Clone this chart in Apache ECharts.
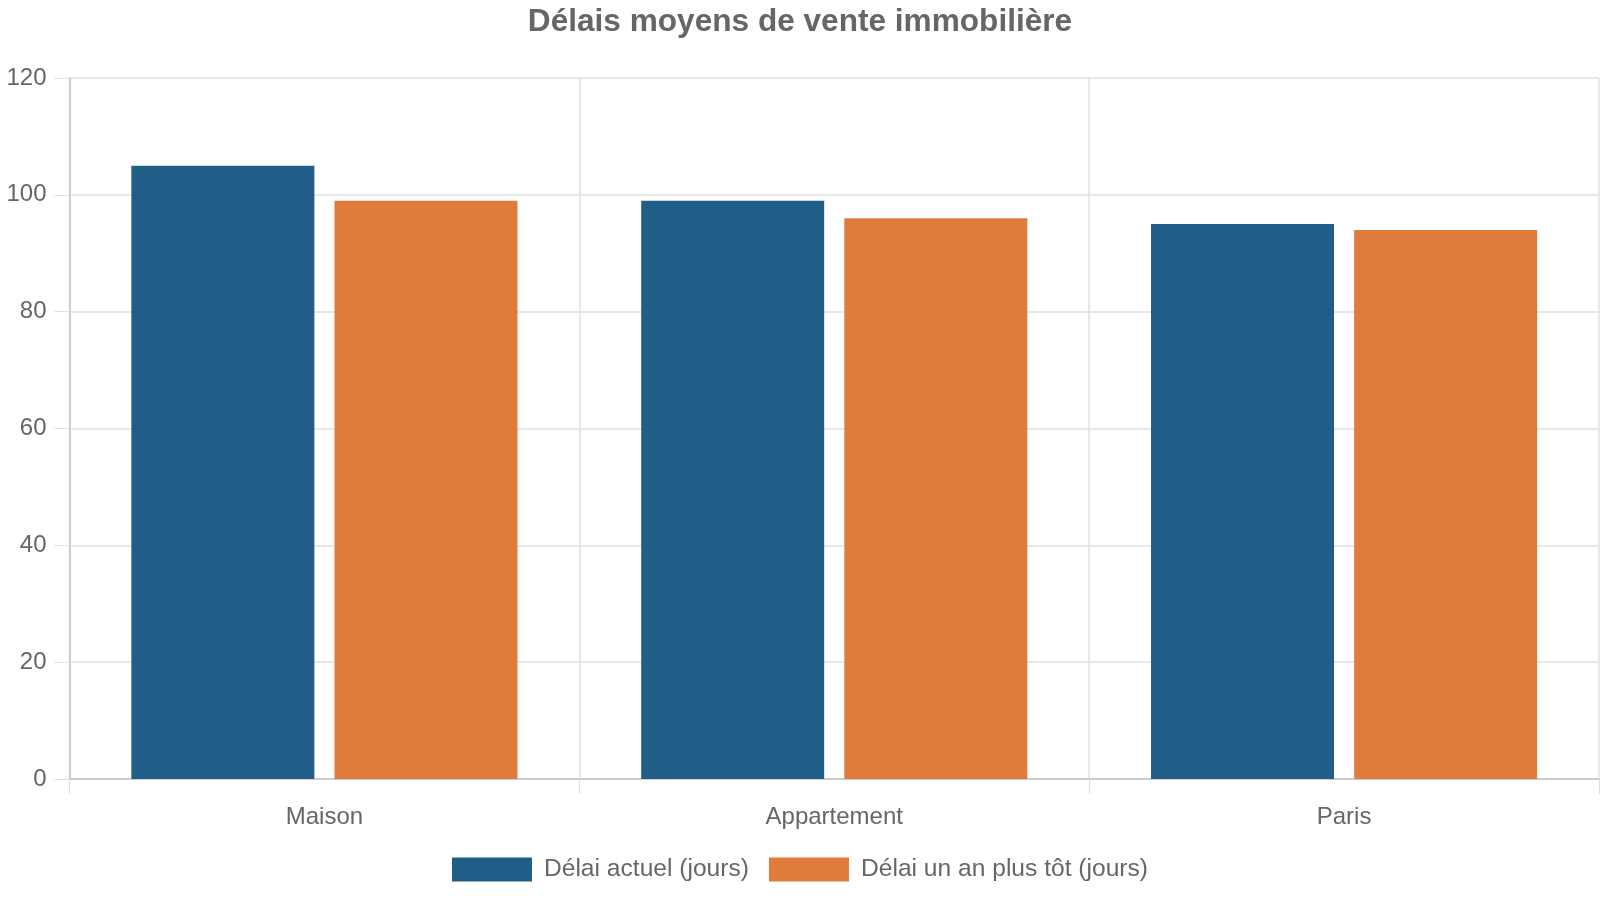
<!DOCTYPE html>
<html lang="fr">
<head>
    <meta charset="UTF-8">
    <title>Délais moyens de vente immobilière</title>
    <script src="https://cdn.jsdelivr.net/npm/echarts@6/dist/echarts.min.js"></script>
    <style>
        html, body { margin: 0; padding: 0; background: #fff; }
        #viz { width: 1600px; height: 900px; }
    </style>
</head>
<body>
    <div id="viz"></div>
    <script>
        const title = 'Délais moyens de vente immobilière';
        const categories = ['Maison', 'Appartement', 'Paris'];
        const seriesNames = ['Délai actuel (jours)', 'Délai un an plus tôt (jours)'];
        const currentDelay = [105, 99, 95];
        const delayYearBefore = [99, 96, 94];
        const colors = ['#205e87', '#e07b3c'];

        const font = '"Liberation Sans", Arial, sans-serif';
        const textColor = '#666';

        const option = {
            animation: false,
            color: colors,
            title: {
                text: title,
                left: 'center',
                top: 1,
                textStyle: { fontFamily: font, fontSize: 31.6, fontWeight: 'bold', color: textColor }
            },
            legend: {
                top: 852,
                left: 'center',
                itemWidth: 80,
                itemHeight: 24,
                itemGap: 20,
                icon: 'rect',
                textStyle: { fontFamily: font, fontSize: 24.6, color: textColor, padding: [0, 0, 0, 7] },
                data: seriesNames
            },
            grid: { left: 69.5, right: 1, top: 78, bottom: 121, containLabel: false },
            xAxis: {
                type: 'category',
                data: categories,
                axisLine: { lineStyle: { color: '#ccc', width: 2 } },
                axisTick: { show: true, length: 15, lineStyle: { color: '#ddd' } },
                axisLabel: { fontFamily: font, fontSize: 24, color: textColor, margin: 26 },
                splitLine: { show: true, lineStyle: { color: '#e0e0e0', width: 1.5 } }
            },
            yAxis: {
                type: 'value',
                min: 0,
                max: 120,
                interval: 20,
                axisLine: { show: true, lineStyle: { color: '#ccc', width: 2 } },
                axisTick: { show: true, length: 15, lineStyle: { color: '#e0e0e0' } },
                axisLabel: { fontFamily: font, fontSize: 24, color: textColor, margin: 23, padding: [3, 0, 0, 0] },
                splitLine: { show: true, lineStyle: { color: '#e0e0e0', width: 1.5 } }
            },
            series: [
                {
                    name: seriesNames[0],
                    type: 'bar',
                    data: currentDelay,
                    barWidth: 183,
                    barGap: '11%'
                },
                {
                    name: seriesNames[1],
                    type: 'bar',
                    data: delayYearBefore,
                    barWidth: 183,
                    barGap: '11%'
                }
            ]
        };

        const chart = echarts.init(document.getElementById('viz'), null, { renderer: 'canvas' });
        chart.setOption(option);
        window.onresize = () => chart.resize();
    </script>
</body>
</html>
